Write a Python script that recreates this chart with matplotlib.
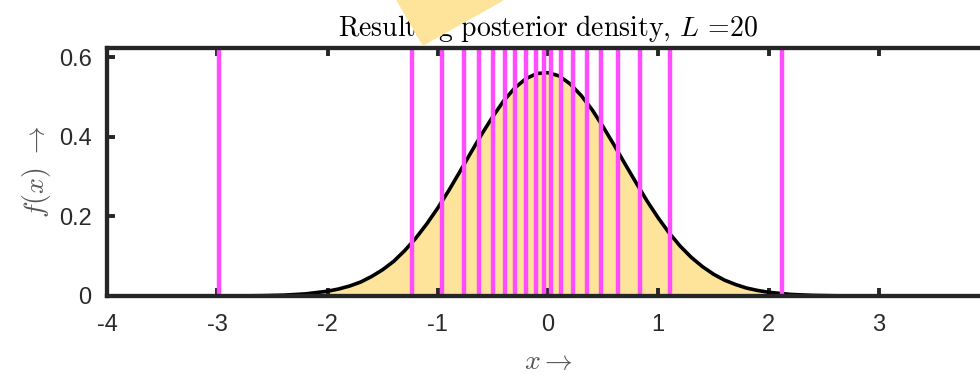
import numpy as np
import matplotlib.pyplot as plt
from matplotlib.patches import Polygon

plt.rcParams["mathtext.fontset"] = "cm"
plt.rcParams["font.family"] = ["Liberation Sans", "DejaVu Sans"]
plt.rcParams["axes.unicode_minus"] = False

# Posterior density
x_vals = [-4.0, -3.6, -3.2, -2.8, -2.6, -2.4, -2.2, -2.0, -1.9, -1.8, -1.7,
          -1.6, -1.5, -1.4, -1.3, -1.2, -1.1, -1.0, -0.9, -0.8, -0.7, -0.6,
          -0.5, -0.4, -0.3, -0.2, -0.1, 0.0, 0.1, 0.2, 0.3, 0.4, 0.5, 0.6,
          0.7, 0.8, 0.9, 1.0, 1.1, 1.2, 1.3, 1.4, 1.5, 1.6, 1.7, 1.8, 1.9,
          2.0, 2.2, 2.4, 2.6, 2.8, 3.2, 3.6, 4.0]
f_vals = [0.0, 0.0, 0.00003, 0.0003, 0.0008, 0.0021, 0.0053, 0.012, 0.0175,
          0.025, 0.035, 0.049, 0.066, 0.087, 0.114, 0.145, 0.181, 0.221,
          0.265, 0.312, 0.360, 0.407, 0.451, 0.491, 0.523, 0.546, 0.559,
          0.561, 0.553, 0.533, 0.504, 0.468, 0.425, 0.379, 0.331, 0.284,
          0.238, 0.196, 0.158, 0.125, 0.097, 0.074, 0.055, 0.040, 0.029,
          0.020, 0.014, 0.0094, 0.0040, 0.0016, 0.0006, 0.0002, 0.00003,
          0.0, 0.0]

# Quantisation boundaries (L = 20)
levels = [-2.98, -1.234, -0.964, -0.764, -0.622, -0.501, -0.392, -0.295,
          -0.198, -0.107, -0.032, 0.029, 0.120, 0.231, 0.352, 0.483, 0.633,
          0.830, 1.107, 2.119]

x_ticks = [-4, -3, -2, -1, 0, 1, 2, 3, 4]
y_ticks = [0, 0.2, 0.4, 0.6]
y_tick_labels = ["0", "0.2", "0.4", "0.6"]

fill_col = "#fde49a"
line_col = "#ff4dff"
axis_col = "#262626"

fig = plt.figure(figsize=(9.8, 3.77), dpi=100)
ax = fig.add_axes([107 / 980, 81 / 377, 882 / 980, 248 / 377])

ax.fill_between(x_vals, f_vals, 0, color=fill_col, lw=0, zorder=1)
ax.plot(x_vals, f_vals, color="black", lw=2.6, zorder=2)
ax.vlines(levels, 0, 0.623, color=line_col, lw=3.2, zorder=3)

ax.set_xlim(-4, 4)
ax.set_ylim(0, 0.623)
ax.set_xticks(x_ticks)
ax.set_yticks(y_ticks)
ax.set_yticklabels(y_tick_labels)
ax.tick_params(direction="in", length=6, width=2.8, color=axis_col,
               labelsize=17, labelcolor="#2a2a2a", top=True, right=True)
ax.tick_params(axis="y", pad=11)
ax.tick_params(axis="x", pad=13)
for s in ax.spines.values():
    s.set_linewidth(3.1)
    s.set_color(axis_col)
    s.set_zorder(4)

ax.set_title(r"$\mathrm{Resulting\ posterior\ density,}\,L\,=\!20$",
             fontsize=20, pad=9)
ax.set_xlabel(r"$x \rightarrow$", fontsize=20, color="#555555", labelpad=9)
ax.set_ylabel(r"$f(x)\ \rightarrow$", fontsize=20, color="#555555", labelpad=4)

# Yellow pointer shape overlapping the title
tri = Polygon([[397 / 980, 1.0], [423 / 980, 1 - 45 / 377], [503 / 980, 1.0]],
              closed=True, transform=fig.transFigure, color=fill_col,
              zorder=10)
fig.patches.append(tri)

fig.savefig("out.png", dpi=100)
